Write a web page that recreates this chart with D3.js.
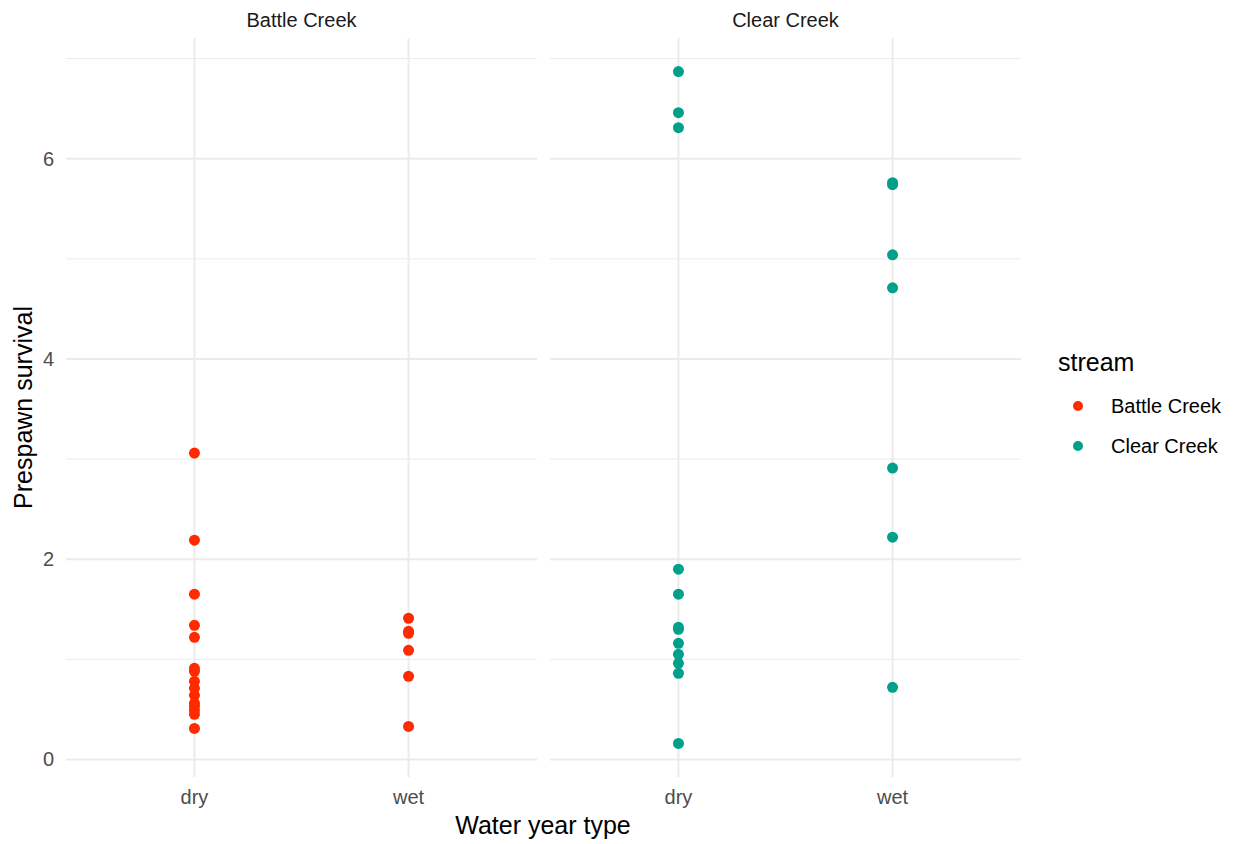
<!DOCTYPE html>
<html lang="en">
<head>
  <meta charset="UTF-8">
  <title>Prespawn survival by water year type</title>
  <script src="https://d3js.org/d3.v7.min.js"></script>
  <style>
    body { margin: 0; background: white; }
    text { font-family: "Liberation Sans", Arial, sans-serif; }
  </style>
</head>
<body>
  <svg id="chart" width="1238" height="844"></svg>

  <script>
    const streams = ["Battle Creek", "Clear Creek"];
    const yearTypes = ["dry", "wet"];
    const streamColors = ["#FF2A00", "#00A08A"];
    const yTicks = [0, 2, 4, 6];
    const yMinorTicks = [1, 3, 5, 7];

    // values
    const battleDry = [3.06, 2.19, 1.65, 1.34, 1.22, 0.91, 0.88, 0.78, 0.71, 0.64, 0.56, 0.53, 0.49, 0.45, 0.31];
    const battleWet = [1.41, 1.28, 1.26, 1.09, 0.83, 0.33];
    const clearDry = [6.87, 6.46, 6.31, 1.90, 1.65, 1.32, 1.30, 1.16, 1.05, 0.96, 0.86, 0.16];
    const clearWet = [5.76, 5.74, 5.04, 4.71, 2.91, 2.22, 0.72];

    const points = [
      ...battleDry.map(v => ({ stream: "Battle Creek", type: "dry", value: v })),
      ...battleWet.map(v => ({ stream: "Battle Creek", type: "wet", value: v })),
      ...clearDry.map(v => ({ stream: "Clear Creek", type: "dry", value: v })),
      ...clearWet.map(v => ({ stream: "Clear Creek", type: "wet", value: v }))
    ];

    const svg = d3.select("#chart");
    const panelTop = 38, panelBottom = 777;
    const panelLeft = [66, 550];
    const panelWidth = 471;

    const color = d3.scaleOrdinal().domain(streams).range(streamColors);

    const ext = d3.extent(points, d => d.value);
    const pad = (ext[1] - ext[0]) * 0.05;
    const y = d3.scaleLinear().domain([ext[0] - pad, ext[1] + pad]).range([panelBottom, panelTop]);

    streams.forEach((s, i) => {
      const x = d3.scalePoint().domain(yearTypes).range([0, panelWidth]).padding(0.6);
      const g = svg.append("g").attr("transform", `translate(${panelLeft[i]},0)`);

      g.selectAll(".minor").data(yMinorTicks).enter().append("line")
        .attr("x1", 0).attr("x2", panelWidth)
        .attr("y1", d => y(d)).attr("y2", d => y(d))
        .attr("stroke", "#EBEBEB").attr("stroke-width", 1);

      g.selectAll(".major").data(yTicks).enter().append("line")
        .attr("x1", 0).attr("x2", panelWidth)
        .attr("y1", d => y(d)).attr("y2", d => y(d))
        .attr("stroke", "#EBEBEB").attr("stroke-width", 2);

      g.selectAll(".vmajor").data(yearTypes).enter().append("line")
        .attr("x1", d => x(d)).attr("x2", d => x(d))
        .attr("y1", panelTop).attr("y2", panelBottom)
        .attr("stroke", "#EBEBEB").attr("stroke-width", 2);

      g.selectAll(".pt").data(points.filter(p => p.stream === s)).enter().append("circle")
        .attr("cx", d => x(d.type))
        .attr("cy", d => y(d.value))
        .attr("r", 5.5)
        .attr("fill", d => color(d.stream));

      g.selectAll(".xlab").data(yearTypes).enter().append("text")
        .attr("x", d => x(d)).attr("y", 804)
        .attr("text-anchor", "middle")
        .attr("font-size", 20).attr("fill", "#4D4D4D")
        .text(d => d);

      g.append("text")
        .attr("x", panelWidth / 2).attr("y", 27)
        .attr("text-anchor", "middle")
        .attr("font-size", 20).attr("fill", "#1A1A1A")
        .text(s);
    });

    svg.selectAll(".ylab").data(yTicks).enter().append("text")
      .attr("x", 54).attr("y", d => y(d) + 7)
      .attr("text-anchor", "end")
      .attr("font-size", 20).attr("fill", "#4D4D4D")
      .text(d => d);

    svg.append("text")
      .attr("x", 543).attr("y", 834)
      .attr("text-anchor", "middle")
      .attr("font-size", 25).attr("fill", "black")
      .text("Water year type");

    svg.append("text")
      .attr("transform", `translate(32,${(panelTop + panelBottom) / 2}) rotate(-90)`)
      .attr("text-anchor", "middle")
      .attr("font-size", 25).attr("fill", "black")
      .text("Prespawn survival");

    // legend
    const legend = svg.append("g").attr("transform", "translate(1058,0)");
    legend.append("text")
      .attr("x", 0).attr("y", 371)
      .attr("font-size", 25).attr("fill", "black")
      .text("stream");
    const items = legend.selectAll(".item").data(streams).enter().append("g")
      .attr("transform", (d, i) => `translate(0,${406 + i * 40})`);
    items.append("circle").attr("cx", 20).attr("cy", 0).attr("r", 5)
      .attr("fill", d => color(d));
    items.append("text").attr("x", 53).attr("y", 7)
      .attr("font-size", 20).attr("fill", "black")
      .text(d => d);
  </script>
</body>
</html>
